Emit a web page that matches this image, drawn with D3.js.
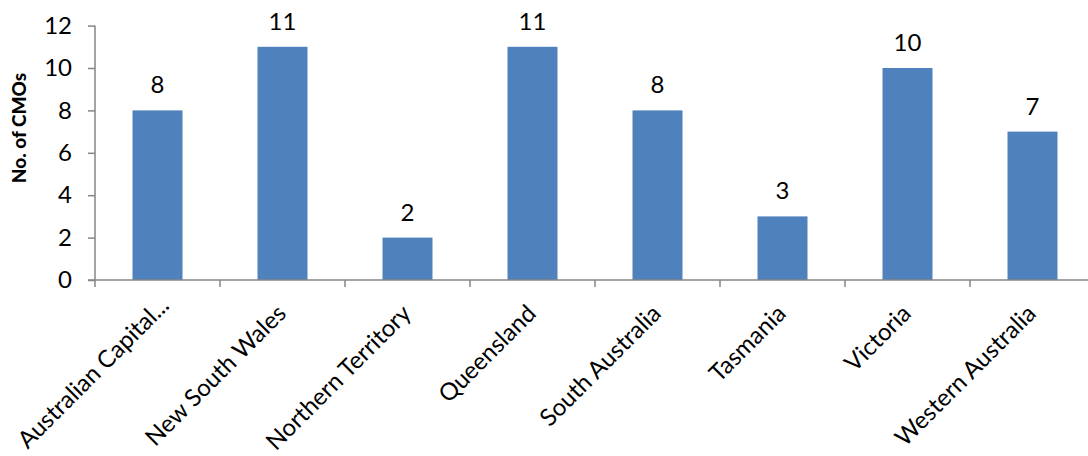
<!DOCTYPE html>
<html>
<head>
<meta charset="utf-8">
<script src="https://cdn.jsdelivr.net/npm/d3@7"></script>
<style>
  html, body { margin: 0; padding: 0; background: #fff; }
  svg { display: block; font-family: Lato, "Open Sans", sans-serif; }
</style>
</head>
<body>
<div id="chart"></div>
<script>
// CMO counts by state / territory
const categories = [
  "Australian Capital...", "New South Wales", "Northern Territory", "Queensland",
  "South Australia", "Tasmania", "Victoria", "Western Australia"
];
const values = [8, 11, 2, 11, 8, 3, 10, 7];
const yTicks = [0, 2, 4, 6, 8, 10, 12];
const yTitle = "No. of CMOs";

const width = 1088, height = 456;
const plot = { left: 95, right: 1095, top: 25.6, bottom: 280 };

const svg = d3.select("#chart").append("svg")
  .attr("width", width).attr("height", height)
  .style("overflow", "hidden");

const x = d3.scaleBand()
  .domain(categories)
  .range([plot.left, plot.right])
  .paddingInner(0.6)
  .paddingOuter(0.3);

const y = d3.scaleLinear().domain([0, 12]).range([plot.bottom, plot.top]);

const axisColor = "#868686";
const labelSize = 24;

// bars
svg.append("g").selectAll("rect")
  .data(values)
  .join("rect")
  .attr("x", (d, i) => x(categories[i]))
  .attr("y", d => y(d))
  .attr("width", x.bandwidth())
  .attr("height", d => y(0) - y(d))
  .attr("fill", "#4F81BD");

// value labels above bars
svg.append("g").selectAll("text")
  .data(values)
  .join("text")
  .attr("x", (d, i) => x(categories[i]) + x.bandwidth() / 2)
  .attr("y", d => y(d) - 17)
  .attr("text-anchor", "middle")
  .attr("font-size", labelSize)
  .attr("fill", "#000")
  .text(d => d);

// y axis
const yAxis = svg.append("g")
  .attr("transform", `translate(${plot.left},0)`)
  .call(d3.axisLeft(y).tickValues(yTicks).tickSize(7).tickPadding(16).tickFormat(d3.format("d")));
yAxis.select(".domain").attr("stroke", axisColor).attr("stroke-width", 1.5)
  .attr("d", `M0,${plot.top}V${plot.bottom}`);
yAxis.selectAll(".tick line").attr("stroke", axisColor).attr("stroke-width", 1.5);
yAxis.selectAll(".tick text")
  .attr("font-size", labelSize).attr("fill", "#000")
  .attr("font-family", "Lato, sans-serif");

// x axis with ticks on band boundaries
const xAxisG = svg.append("g").attr("transform", `translate(0,${plot.bottom})`);
xAxisG.append("line")
  .attr("x1", plot.left - 7).attr("x2", plot.right)
  .attr("stroke", axisColor).attr("stroke-width", 1.5);
const step = x.step();
const boundaries = d3.range(categories.length + 1).map(i => plot.left + i * step);
xAxisG.selectAll("line.tick")
  .data(boundaries)
  .join("line")
  .attr("class", "tick")
  .attr("x1", d => d).attr("x2", d => d)
  .attr("y1", 0).attr("y2", 7)
  .attr("stroke", axisColor).attr("stroke-width", 1.5);

// rotated category labels; a truncated label is nudged along its baseline
xAxisG.selectAll("text")
  .data(categories)
  .join("text")
  .attr("transform", d => {
    const nudge = d.endsWith("...") ? 8 : 0;
    return `translate(${x(d) + x.bandwidth() / 2 + 5 + nudge},${35 - nudge}) rotate(-45)`;
  })
  .attr("text-anchor", "end")
  .attr("font-size", labelSize)
  .attr("fill", "#000")
  .text(d => d);

// y axis title
svg.append("text")
  .attr("transform", `translate(26,128) rotate(-90)`)
  .attr("text-anchor", "middle")
  .attr("font-size", 19)
  .attr("font-weight", 900)
  .attr("fill", "#000")
  .text(yTitle);
</script>
</body>
</html>
